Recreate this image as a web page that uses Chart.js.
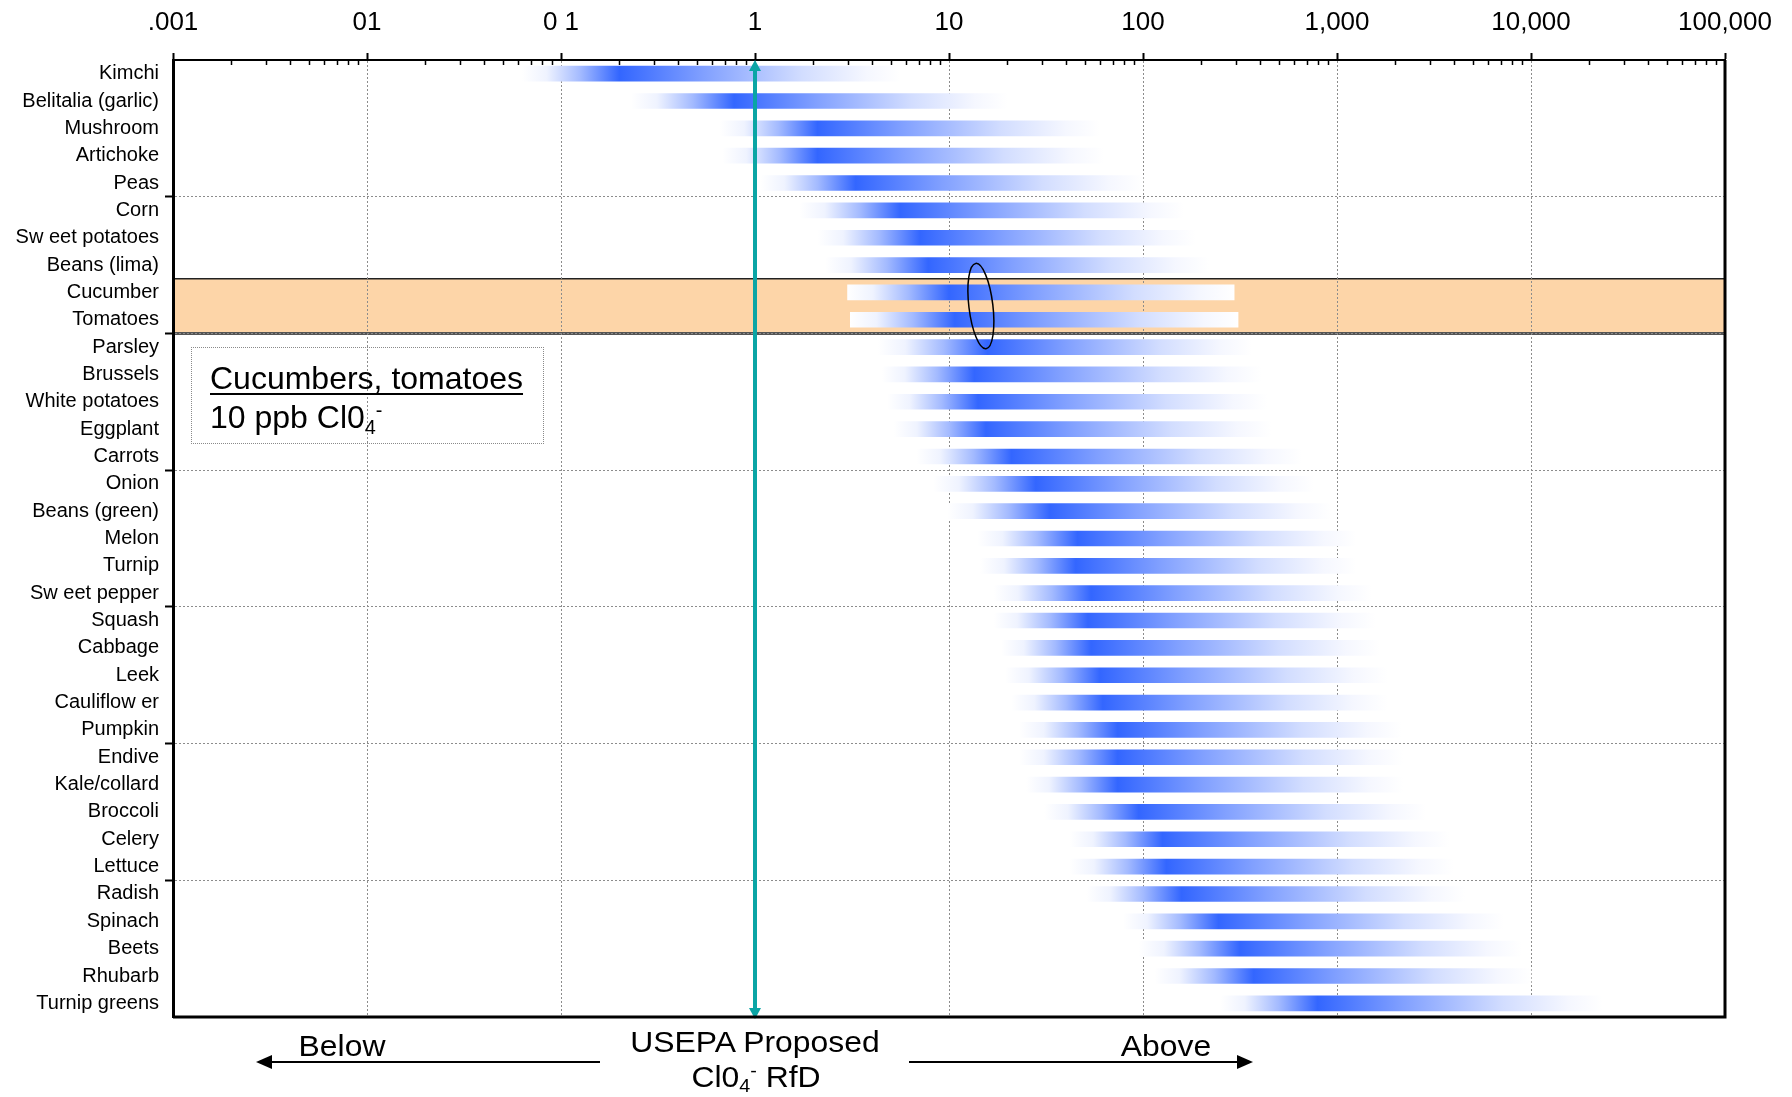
<!DOCTYPE html>
<html>
<head>
<meta charset="utf-8">
<script src="https://cdn.jsdelivr.net/npm/chart.js@4.4.1/dist/chart.umd.min.js"></script>
<style>
  html, body { margin: 0; padding: 0; background: #fff; }
  #wrap { position: relative; width: 1792px; height: 1097px; font-family: "Liberation Sans", Arial, sans-serif; color: #000; }
  #wrap canvas { position: absolute; left: 0; top: 0; }
  #noteBox { position: absolute; left: 191px; top: 347px; width: 353px; height: 97px; box-sizing: border-box; border: 1px dotted #8a8a8a; }
  .note { position: absolute; left: 210px; font-size: 32px; line-height: 32px; white-space: nowrap; }
  .note u { text-decoration-thickness: 2px; text-underline-offset: 4px; }
  .big { position: absolute; font-size: 29px; line-height: 29px; white-space: nowrap; transform: translateX(-50%) scaleX(1.1); }
  .sub { font-size: 0.62em; vertical-align: -0.3em; line-height: 0; }
  .sup { font-size: 0.62em; vertical-align: 0.55em; line-height: 0; }
  #arrows { position: absolute; left: 0; top: 0; pointer-events: none; }
</style>
</head>
<body>
<div id="wrap">
  <canvas id="chart" width="1792" height="1097"></canvas>
  <div id="noteBox"></div>
  <div class="note" style="top:362px"><u>Cucumbers, tomatoes</u></div>
  <div class="note" style="top:401px">10 ppb Cl0<span class="sub">4</span><span class="sup">-</span></div>
  <div class="big" style="left:342px; top:1032px">Below</div>
  <div class="big" style="left:755px; top:1028px">USEPA Proposed</div>
  <div class="big" style="left:756px; top:1063px">Cl0<span class="sub">4</span><span class="sup">-</span> RfD</div>
  <div class="big" style="left:1166px; top:1032px">Above</div>
  <svg id="arrows" width="1792" height="1097">
    <line x1="600" y1="1062" x2="266" y2="1062" stroke="#000" stroke-width="2"/>
    <polygon points="256,1062 272,1055 272,1069" fill="#000"/>
    <line x1="909" y1="1062" x2="1243" y2="1062" stroke="#000" stroke-width="2"/>
    <polygon points="1253,1062 1237,1055 1237,1069" fill="#000"/>
  </svg>
</div>
<script>
// food items, top to bottom
const foods = [
  "Kimchi", "Belitalia (garlic)", "Mushroom", "Artichoke", "Peas",
  "Corn", "Sw eet potatoes", "Beans (lima)", "Cucumber", "Tomatoes",
  "Parsley", "Brussels", "White potatoes", "Eggplant", "Carrots",
  "Onion", "Beans (green)", "Melon", "Turnip", "Sw eet pepper",
  "Squash", "Cabbage", "Leek", "Cauliflow er", "Pumpkin",
  "Endive", "Kale/collard", "Broccoli", "Celery", "Lettuce",
  "Radish", "Spinach", "Beets", "Rhubarb", "Turnip greens"
];

// where each range starts, peaks and fades out (relative to the RfD)
const rangeLow = [
  0.063, 0.23, 0.66, 0.68, 1.07,
  1.7, 2.1, 2.3, 3.0, 3.1,
  4.3, 4.5, 4.8, 5.2, 6.8,
  8.3, 9.8, 14, 14.5, 17,
  17, 18.6, 19.5, 21, 23,
  23, 25, 31, 42, 42,
  51, 79, 95, 115, 251
];
const rangePeak = [
  0.20, 0.78, 2.1, 2.1, 3.3,
  5.6, 7.1, 7.8, 10, 10.7,
  15.8, 13.5, 14.1, 15.5, 21,
  28, 33, 46, 45, 54,
  52, 54, 60, 62, 74,
  74, 74, 95, 126, 132,
  158, 245, 316, 372, 794
];
const rangeHigh = [
  5.6, 20, 60, 63, 100,
  162, 186, 219, 295, 309,
  363, 407, 437, 457, 661,
  759, 933, 1260, 1260, 1510,
  1580, 1660, 1820, 1820, 2140,
  2190, 2190, 2880, 3800, 3980,
  4570, 7240, 8910, 10000, 23400
];

const decadeValues = [0.001, 0.01, 0.1, 1, 10, 100, 1000, 10000, 100000];
const decadeLabels = [".001", "01", "0 1", "1", "10", "100", "1,000", "10,000", "100,000"];

const rfdValue = 1;
const highlightFirst = "Cucumber";
const highlightLast = "Tomatoes";
const circledValue = 14.6;

const BLUE = [51, 102, 255];
const TEAL = "#0aa5a5";
const fontFamily = "'Liberation Sans', Arial, sans-serif";

const tint = (t) => {
  const c = BLUE.map(v => Math.round(255 + (v - 255) * t));
  return `rgb(${c[0]},${c[1]},${c[2]})`;
};

const barFill = (ctx) => {
  if (ctx.type !== "data") return tint(1);
  const chart = ctx.chart;
  const x = chart.scales.x;
  if (!x) return tint(1);
  const i = ctx.dataIndex;
  const x0 = x.getPixelForValue(rangeLow[i]);
  const x1 = x.getPixelForValue(rangeHigh[i]);
  const xp = x.getPixelForValue(rangePeak[i]);
  if (!isFinite(x0) || !isFinite(x1) || x1 <= x0) return tint(1);
  const f = Math.min(0.97, Math.max(0.03, (xp - x0) / (x1 - x0)));
  const g = chart.ctx.createLinearGradient(x0, 0, x1, 0);
  g.addColorStop(0, tint(0));
  g.addColorStop(f * 0.25, tint(0.08));
  g.addColorStop(f * 0.6, tint(0.45));
  g.addColorStop(f, tint(1));
  g.addColorStop(f + (1 - f) * 0.3, tint(0.62));
  g.addColorStop(f + (1 - f) * 0.65, tint(0.22));
  g.addColorStop(f + (1 - f) * 0.88, tint(0.05));
  g.addColorStop(1, tint(0));
  return g;
};

// horizontal grid every five rows
const everyFifth = (ctx) => (ctx.index > 0 && ctx.index % 5 === 0) ? "#8c8c8c" : "rgba(0,0,0,0)";
const everyFifthTick = (ctx) => (ctx.index > 0 && ctx.index % 5 === 0) ? "#000" : "rgba(0,0,0,0)";

const rowEdge = (y, i) => (y.getPixelForValue(i) + y.getPixelForValue(i - 1)) / 2;

const extras = {
  id: "extras",
  beforeDraw(chart) {
    const { ctx, chartArea: a, scales: { y } } = chart;
    const i0 = foods.indexOf(highlightFirst);
    const i1 = foods.indexOf(highlightLast);
    const top = rowEdge(y, i0);
    const bottom = rowEdge(y, i1 + 1);
    ctx.save();
    ctx.fillStyle = "#fdd5a8";
    ctx.fillRect(a.left, top, a.right - a.left, bottom - top);
    ctx.strokeStyle = "#222";
    ctx.lineWidth = 1.5;
    ctx.beginPath();
    ctx.moveTo(a.left, top);
    ctx.lineTo(a.right, top);
    ctx.stroke();
    ctx.strokeStyle = "#555";
    ctx.lineWidth = 3;
    ctx.beginPath();
    ctx.moveTo(a.left, bottom);
    ctx.lineTo(a.right, bottom);
    ctx.stroke();
    ctx.restore();
  },
  afterDatasetsDraw(chart) {
    const { ctx, chartArea: a, scales: { x, y } } = chart;
    // RfD line with arrow heads
    const px = x.getPixelForValue(rfdValue);
    ctx.save();
    ctx.strokeStyle = TEAL;
    ctx.fillStyle = TEAL;
    ctx.lineWidth = 4;
    ctx.beginPath();
    ctx.moveTo(px, a.top + 8);
    ctx.lineTo(px, a.bottom - 8);
    ctx.stroke();
    ctx.beginPath();
    ctx.moveTo(px, a.top);
    ctx.lineTo(px - 6, a.top + 11);
    ctx.lineTo(px + 6, a.top + 11);
    ctx.closePath();
    ctx.fill();
    ctx.beginPath();
    ctx.moveTo(px, a.bottom + 2);
    ctx.lineTo(px - 6, a.bottom - 9);
    ctx.lineTo(px + 6, a.bottom - 9);
    ctx.closePath();
    ctx.fill();

    // circle round the 10 ppb point of cucumber and tomatoes
    const i0 = foods.indexOf(highlightFirst);
    const cy = rowEdge(y, i0 + 1);
    const cx = x.getPixelForValue(circledValue);
    ctx.strokeStyle = "#000";
    ctx.lineWidth = 1.5;
    ctx.beginPath();
    ctx.ellipse(cx, cy, 12, 43, -0.12, 0, Math.PI * 2);
    ctx.stroke();
    ctx.restore();
  },
  afterDraw(chart) {
    const { ctx, chartArea: a, scales: { x } } = chart;
    ctx.save();
    // minor ticks on the top axis
    ctx.strokeStyle = "#000";
    ctx.lineWidth = 1.5;
    ctx.beginPath();
    for (let d = 0; d < decadeValues.length - 1; d++) {
      for (let k = 2; k <= 9; k++) {
        const p = Math.round(x.getPixelForValue(decadeValues[d] * k)) + 0.5;
        ctx.moveTo(p, a.top);
        ctx.lineTo(p, a.top + 5);
      }
    }
    ctx.stroke();
    // right and bottom frame
    ctx.lineWidth = 3;
    ctx.strokeStyle = "#000";
    ctx.beginPath();
    ctx.moveTo(a.right, a.top);
    ctx.lineTo(a.right, a.bottom);
    ctx.lineTo(a.left, a.bottom);
    ctx.stroke();
    ctx.restore();
  }
};

const chart = new Chart(document.getElementById("chart"), {
  type: "bar",
  data: {
    labels: foods,
    datasets: [{
      data: foods.map((f, i) => [rangeLow[i], rangeHigh[i]]),
      backgroundColor: barFill,
      borderWidth: 0,
      barThickness: 15
    }]
  },
  options: {
    indexAxis: "y",
    responsive: false,
    animation: false,
    layout: { padding: { top: 0, right: 67, bottom: 80, left: 0 } },
    plugins: { legend: { display: false }, tooltip: { enabled: false } },
    scales: {
      x: {
        type: "logarithmic",
        position: "top",
        min: 0.001,
        max: 100000,
        afterBuildTicks: (scale) => {
          scale.ticks = decadeValues.map(v => ({ value: v, major: true }));
        },
        afterFit: (scale) => { scale.height = 60; },
        ticks: {
          autoSkip: false,
          maxRotation: 0,
          padding: 15,
          color: "#000",
          font: { family: fontFamily, size: 26 },
          callback: (v, i) => decadeLabels[i]
        },
        grid: { color: "#8c8c8c", lineWidth: 1, drawTicks: true, tickLength: 7, tickColor: "#000", tickWidth: 2 },
        border: { display: true, color: "#000", width: 2, dash: [2, 2] }
      },
      y: {
        afterFit: (scale) => { scale.width = 173; },
        ticks: { color: "#000", font: { family: fontFamily, size: 20 }, padding: 6, autoSkip: false },
        grid: { color: everyFifth, lineWidth: 1, tickLength: 8, tickColor: everyFifthTick, tickWidth: 2 },
        border: { display: true, color: "#000", width: 3, dash: [2, 2] }
      }
    }
  },
  plugins: [extras]
});
</script>
</body>
</html>
